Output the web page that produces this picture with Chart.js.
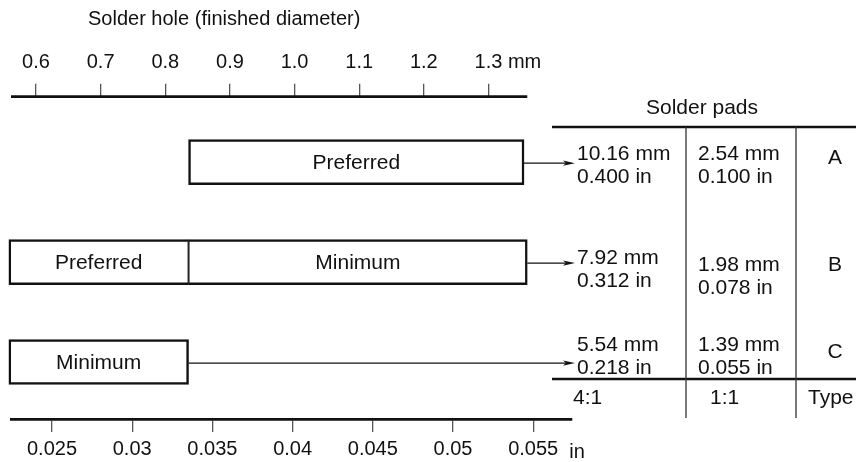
<!DOCTYPE html>
<html>
<head>
<meta charset="utf-8">
<script src="https://cdn.jsdelivr.net/npm/chart.js@4/dist/chart.umd.min.js"></script>
<style>
    html, body { margin: 0 ; padding: 0 ; background: #ffffff ; }
    #wrap { width: 856px ; height: 462px ; position: relative ; }
</style>
</head>
<body>
<div id="wrap"><canvas id="padChart"></canvas></div>
<script>
// ---------------- Data ---------------------------------------------------
const rowTypes        = [ 'A', 'B', 'C' ] ;
const mmTicks         = [ 0.6, 0.7, 0.8, 0.9, 1.0, 1.1, 1.2, 1.3 ] ;
const inchTicks       = [ 0.025, 0.03, 0.035, 0.04, 0.045, 0.05, 0.055 ] ;
const inchTickLabels  = [ '0.025', '0.03', '0.035', '0.04', '0.045', '0.05', '0.055' ] ;

// hole diameter bands in mm, one entry per row (null = no band in that row)
const preferredBands  = [ [ 0.836, 1.355 ], [ 0.558, 0.836 ], null ] ;
const minimumBands    = [ null, [ 0.836, 1.36 ], [ 0.558, 0.836 ] ] ;

// solder pad table
const pad41Mm         = [ '10.16 mm', '7.92 mm', '5.54 mm' ] ;
const pad41In         = [ '0.400 in', '0.312 in', '0.218 in' ] ;
const pad11Mm         = [ '2.54 mm', '1.98 mm', '1.39 mm' ] ;
const pad11In         = [ '0.100 in', '0.078 in', '0.055 in' ] ;
const footerLabels    = [ '4:1', '1:1', 'Type' ] ;

// ---------------- Style / layout ----------------------------------------
const INK          = '#111111' ;
const TICK_COLOR   = '#555555' ;
const FONT         = '"Liberation Sans", Arial, Helvetica, sans-serif' ;
const AXIS_FONT    = 20 ;
const BODY_FONT    = 21 ;
const AXIS_WIDTH   = 2.7 ;
const TICK_LEN     = 13 ;
const TOP_LBL_PAD  = 9 ;
const BOT_LBL_PAD  = 5 ;
const TOP_AXIS_END = 1.36 ;   // mm, where the upper rule stops

const TABLE_LEFT   = 552 ;
const TABLE_RIGHT  = 856 ;
const TABLE_HEAD_Y = 127 ;
const TABLE_FOOT_Y = 379 ;
const TABLE_VLINE_BOTTOM = 418 ;
const COL_LINES    = [ 686, 796 ] ;
const COL1_X       = 577 ;
const COL2_X       = 698 ;
const COL3_CX      = 835 ;
const LINE_GAP     = 23 ;
// per row: first text line offset from bar centre for column 1, column 2, type letter
const ROW_TEXT_OFF = [ [ -8, -8, -4 ], [ -4, 3, 3 ], [ -17, -17, -10 ] ] ;

function toPoints( bands ) {
    var pts = [] ;
    for( var i=0; i<bands.length; i++ ) {
        if( bands[i] != null ) {
            pts.push( { x: bands[i], y: i } ) ;
        }
    }
    return pts ;
}

// half border on the side where two bands meet, so the divider is single width
function isJoined( band, row, otherBands, side ) {
    const o = otherBands[row] ;
    if( o == null ) return false ;
    return side == 'left' ? o[1] == band[0] : o[0] == band[1] ;
}

function bandBorder( ownBands, otherBands ) {
    return function( context ) {
        const raw = context.raw ;
        if( !raw ) return 2.5 ;
        const row = raw.y ;
        return {
            top    : 2.5,
            bottom : 2.5,
            left   : isJoined( raw.x, row, otherBands, 'left' )  ? 1.3 : 2.5,
            right  : isJoined( raw.x, row, otherBands, 'right' ) ? 1.3 : 2.5,
        } ;
    } ;
}

const diagramPlugin = {
    id : 'diagram',
    afterDatasetsDraw( chart ) {
        const ctx = chart.ctx ;
        const xs  = chart.scales.x ;
        const x2  = chart.scales.x2 ;
        const ys  = chart.scales.y ;

        ctx.save() ;
        ctx.fillStyle   = INK ;
        ctx.strokeStyle = INK ;

        // title
        ctx.font = AXIS_FONT + 'px ' + FONT ;
        ctx.textAlign = 'left' ;
        ctx.textBaseline = 'middle' ;
        ctx.fillText( 'Solder hole (finished diameter)', 88, 19 ) ;

        // upper rule
        ctx.lineWidth = AXIS_WIDTH ;
        ctx.beginPath() ;
        ctx.moveTo( xs.left, xs.bottom ) ;
        ctx.lineTo( xs.getPixelForValue( TOP_AXIS_END ), xs.bottom ) ;
        ctx.stroke() ;

        // unit labels
        const lastMm = mmTicks[ mmTicks.length - 1 ] ;
        const mmX = xs.getPixelForValue( lastMm ) + ctx.measureText( lastMm.toFixed(1) ).width / 2 +
                    ctx.measureText( ' ' ).width ;
        ctx.fillText( 'mm', mmX, xs.bottom - TICK_LEN - TOP_LBL_PAD - 12 ) ;

        const lastIn = inchTicks.length - 1 ;
        const inX = x2.getPixelForValue( inchTicks[lastIn] ) +
                    ctx.measureText( inchTickLabels[lastIn] ).width / 2 + 11 ;
        ctx.fillText( 'in', inX, x2.top + TICK_LEN + BOT_LBL_PAD + 12 + 3 ) ;

        // band labels and row ends
        ctx.font = BODY_FONT + 'px ' + FONT ;
        ctx.textAlign = 'center' ;
        var rowEnd = rowTypes.map( function() { return -Infinity ; } ) ;
        chart.data.datasets.forEach( function( ds, di ) {
            const meta = chart.getDatasetMeta( di ) ;
            meta.data.forEach( function( el, i ) {
                const row = ds.data[i].y ;
                ctx.fillText( ds.label, ( el.x + el.base ) / 2, el.y + 1 ) ;
                rowEnd[row] = Math.max( rowEnd[row], el.x, el.base ) ;
            } ) ;
        } ) ;

        // arrows to the pad table
        ctx.lineWidth = 1.3 ;
        const tipX = COL1_X - 2 ;
        for( var r=0; r<rowTypes.length; r++ ) {
            const y = ys.getPixelForValue( r ) + 1 ;
            ctx.beginPath() ;
            ctx.moveTo( rowEnd[r], y ) ;
            ctx.lineTo( tipX - 8, y ) ;
            ctx.stroke() ;
            ctx.beginPath() ;
            ctx.moveTo( tipX, y ) ;
            ctx.lineTo( tipX - 12, y - 2.6 ) ;
            ctx.lineTo( tipX - 9, y ) ;
            ctx.lineTo( tipX - 12, y + 2.6 ) ;
            ctx.closePath() ;
            ctx.fill() ;
        }

        // table rules
        ctx.lineWidth = AXIS_WIDTH ;
        ctx.beginPath() ;
        ctx.moveTo( TABLE_LEFT, TABLE_HEAD_Y ) ;
        ctx.lineTo( TABLE_RIGHT, TABLE_HEAD_Y ) ;
        ctx.moveTo( TABLE_LEFT, TABLE_FOOT_Y ) ;
        ctx.lineTo( TABLE_RIGHT, TABLE_FOOT_Y ) ;
        ctx.stroke() ;
        ctx.lineWidth = 1.3 ;
        ctx.strokeStyle = '#333333' ;
        ctx.beginPath() ;
        COL_LINES.forEach( function( cx ) {
            ctx.moveTo( cx, TABLE_HEAD_Y ) ;
            ctx.lineTo( cx, TABLE_VLINE_BOTTOM ) ;
        } ) ;
        ctx.stroke() ;

        // table text
        ctx.textAlign = 'center' ;
        ctx.fillText( 'Solder pads', 702, 108 ) ;
        for( var r=0; r<rowTypes.length; r++ ) {
            const cy  = ys.getPixelForValue( r ) ;
            const off = ROW_TEXT_OFF[r] ;
            ctx.textAlign = 'left' ;
            ctx.fillText( pad41Mm[r], COL1_X, cy + off[0] ) ;
            ctx.fillText( pad41In[r], COL1_X, cy + off[0] + LINE_GAP ) ;
            ctx.fillText( pad11Mm[r], COL2_X, cy + off[1] ) ;
            ctx.fillText( pad11In[r], COL2_X, cy + off[1] + LINE_GAP ) ;
            ctx.textAlign = 'center' ;
            ctx.fillText( rowTypes[r], COL3_CX, cy + off[2] ) ;
        }
        ctx.textAlign = 'left' ;
        ctx.fillText( footerLabels[0], 573, 398 ) ;
        ctx.fillText( footerLabels[1], 710, 398 ) ;
        ctx.fillText( footerLabels[2], 808, 398 ) ;

        ctx.restore() ;
    }
} ;

const ctx = document.getElementById( 'padChart' ) ;

new Chart( ctx, {
    type : 'bar',
    data : {
        datasets : [
            {
                label           : 'Preferred',
                data            : toPoints( preferredBands ),
                backgroundColor : '#ffffff',
                borderColor     : INK,
                borderWidth     : bandBorder( preferredBands, minimumBands ),
                borderSkipped   : false,
                grouped         : false,
                barThickness    : 45,
                clip            : false,
            },
            {
                label           : 'Minimum',
                data            : toPoints( minimumBands ),
                backgroundColor : '#ffffff',
                borderColor     : INK,
                borderWidth     : bandBorder( minimumBands, preferredBands ),
                borderSkipped   : false,
                grouped         : false,
                barThickness    : 45,
                clip            : false,
            },
        ]
    },
    options : {
        indexAxis : 'y',
        responsive : true,
        maintainAspectRatio : false,
        animation : false,
        layout : {
            padding : { top: 30, left: 11, right: 284, bottom: 0 }
        },
        plugins : {
            legend  : { display: false },
            tooltip : { enabled: false },
        },
        scales : {
            x : {
                type     : 'linear',
                position : 'top',
                bounds   : 'data',
                min      : 0.56132,
                max      : 1.42921,
                stacked  : false,
                afterBuildTicks : function( scale ) {
                    scale.ticks = mmTicks.map( function( v ) { return { value: v } ; } ) ;
                },
                afterFit : function( scale ) { scale.height = 66.7 ; },
                grid   : { drawOnChartArea: false, drawTicks: true, tickLength: TICK_LEN,
                           color: TICK_COLOR, lineWidth: 1.3 },
                border : { display: false },
                ticks  : {
                    autoSkip    : false,
                    maxRotation : 0,
                    padding     : TOP_LBL_PAD,
                    color       : INK,
                    font        : { family: FONT, size: AXIS_FONT },
                    callback    : function( value ) { return Number( value ).toFixed( 1 ) ; }
                }
            },
            x2 : {
                type     : 'linear',
                axis     : 'x',
                position : 'bottom',
                bounds   : 'data',
                min      : 0.022444,
                max      : 0.057419,
                afterBuildTicks : function( scale ) {
                    scale.ticks = inchTicks.map( function( v ) { return { value: v } ; } ) ;
                },
                afterFit : function( scale ) { scale.height = 43 ; },
                grid   : { drawOnChartArea: false, drawTicks: true, tickLength: TICK_LEN,
                           color: TICK_COLOR, lineWidth: 1.3 },
                border : { display: true, color: INK, width: AXIS_WIDTH },
                ticks  : {
                    autoSkip    : false,
                    maxRotation : 0,
                    padding     : BOT_LBL_PAD,
                    color       : INK,
                    font        : { family: FONT, size: AXIS_FONT },
                    callback    : function( value, index ) { return inchTickLabels[index] ; }
                }
            },
            y : {
                type    : 'linear',
                display : false,
                reverse : true,
                offset  : false,
                grid    : { offset: false },
                bounds  : 'data',
                min     : -0.655,
                max     : 2.57,
            }
        }
    },
    plugins : [ diagramPlugin ]
} ) ;
</script>
</body>
</html>
